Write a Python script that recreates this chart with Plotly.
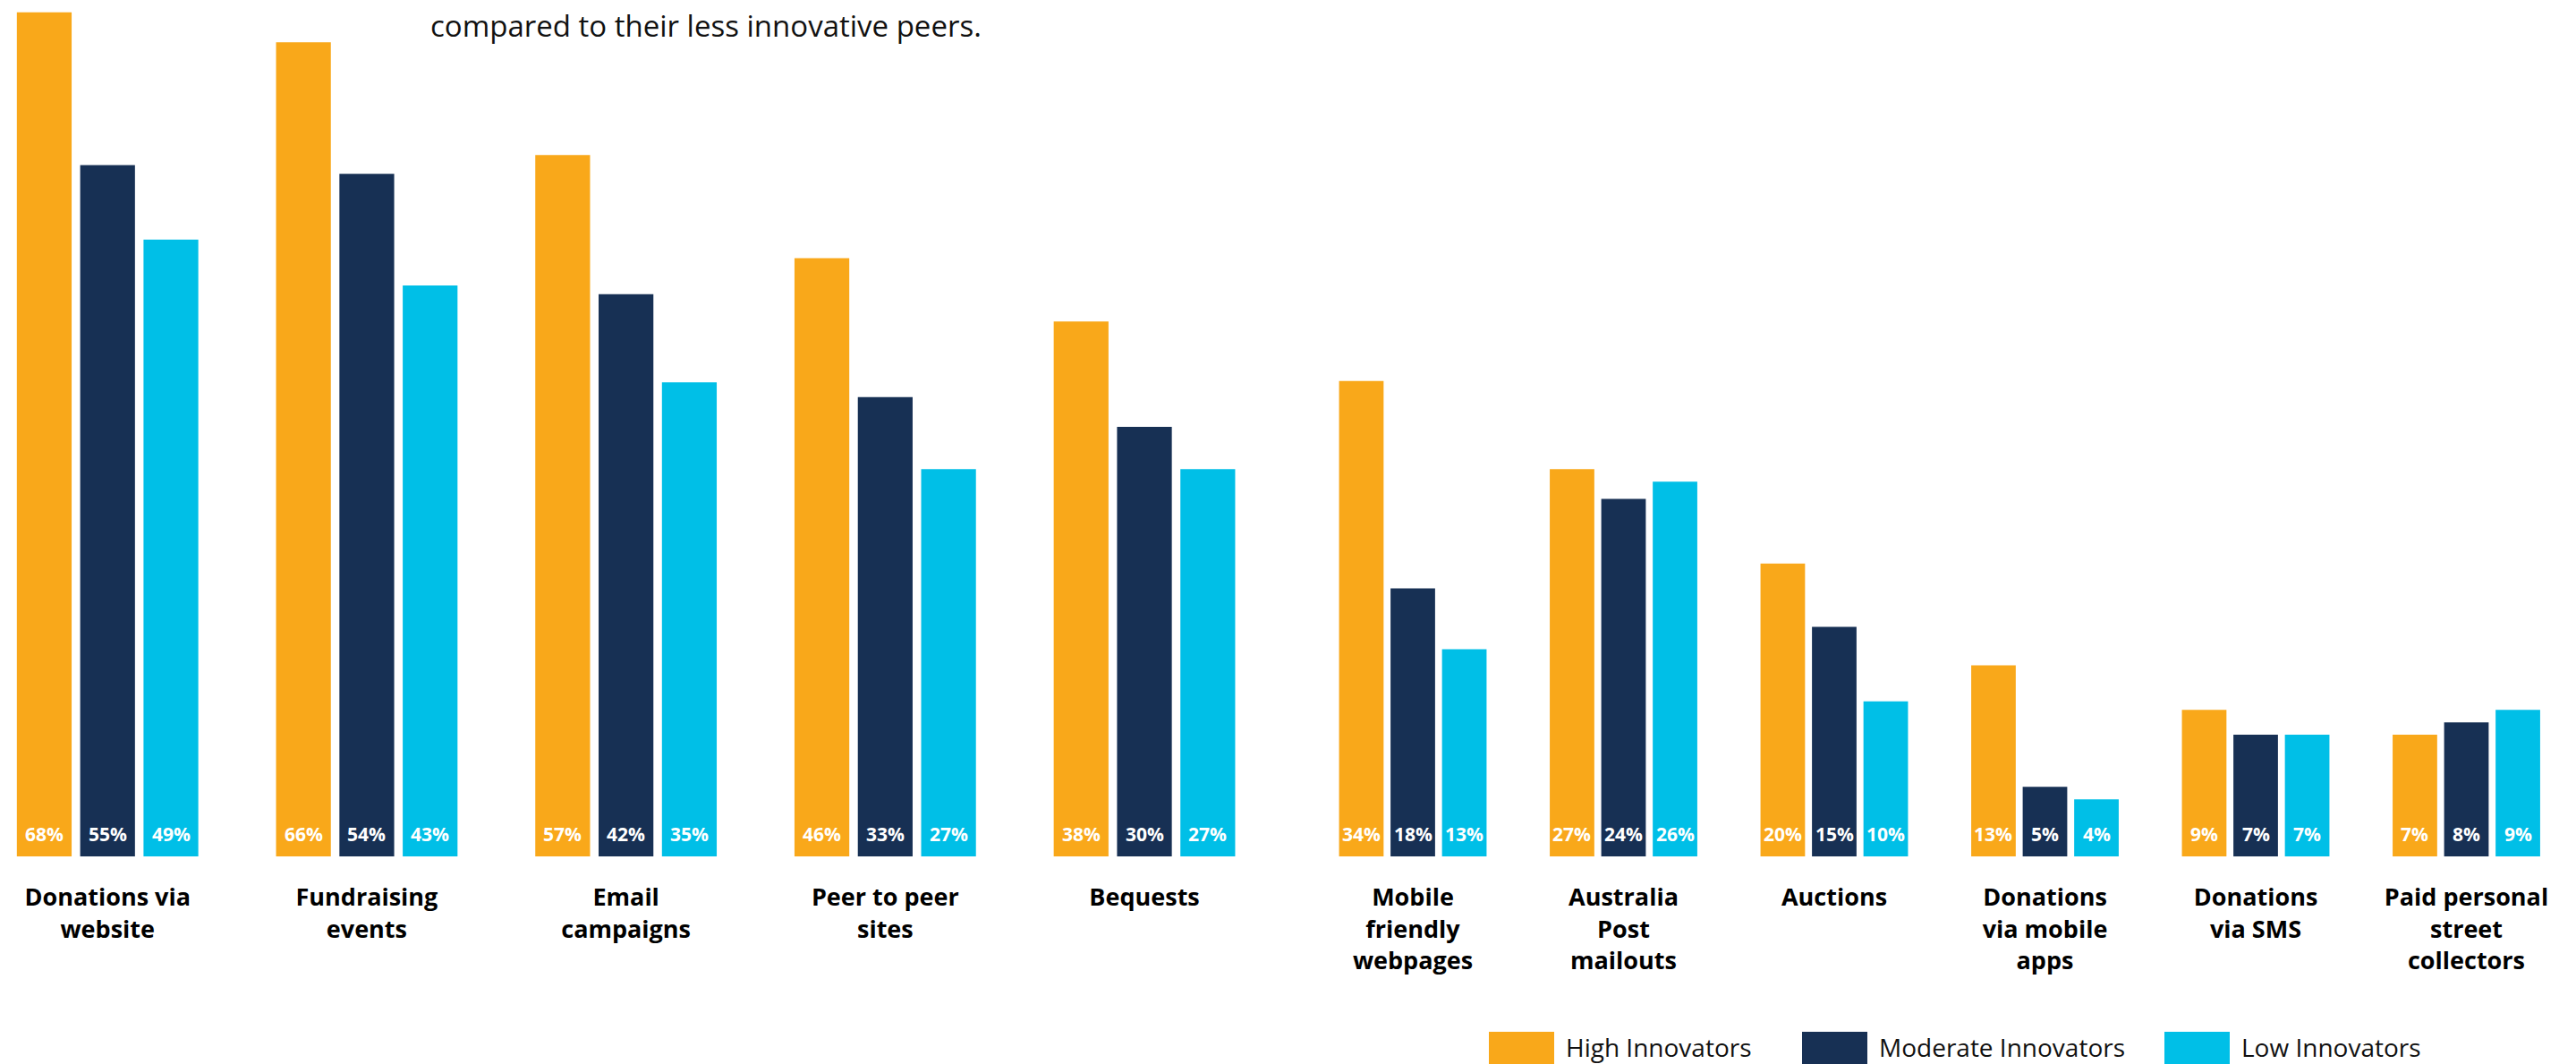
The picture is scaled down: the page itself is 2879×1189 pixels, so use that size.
import plotly.graph_objects as go

# ---------------- data ----------------
categories = [
    "Donations via<br>website", "Fundraising<br>events", "Email<br>campaigns",
    "Peer to peer<br>sites", "Bequests", "Mobile<br>friendly<br>webpages",
    "Australia<br>Post<br>mailouts", "Auctions", "Donations<br>via mobile<br>apps",
    "Donations<br>via SMS", "Paid personal<br>street<br>collectors",
]
series_names = ["High Innovators", "Moderate Innovators", "Low Innovators"]
series_colors = ["#F9A81A", "#173054", "#00BFE7"]

# printed percentage labels
high_pct = [68, 66, 57, 46, 38, 34, 27, 20, 13, 9, 7]
moderate_pct = [55, 54, 42, 33, 30, 18, 24, 15, 5, 7, 8]
low_pct = [49, 43, 35, 27, 27, 13, 26, 10, 4, 7, 9]

# bar lengths as drawn in the picture (same scale as the 68% bar)
high_bar = [68.0, 65.6, 56.5, 48.2, 43.1, 38.3, 31.2, 23.6, 15.4, 11.8, 9.8]
moderate_bar = [55.7, 55.0, 45.3, 37.0, 34.6, 21.6, 28.8, 18.5, 5.6, 9.8, 10.8]
low_bar = [49.7, 46.0, 38.2, 31.2, 31.2, 16.7, 30.2, 12.5, 4.6, 9.8, 11.8]

note_text = "compared to their less innovative peers."

# ---------------- layout constants ----------------
W, H = 2879, 1189
PLOT_BOTTOM = 957
SPLIT = 5
BARGAP = 0.267
BARGROUPGAP = 0.135
FONT = "Open Sans"

pct_series = [high_pct, moderate_pct, low_pct]
bar_series = [high_bar, moderate_bar, low_bar]


def py(p):
    return (PLOT_BOTTOM - p) / PLOT_BOTTOM


def px(p):
    return p / W


fig = go.Figure()
for j, (name, color, bars) in enumerate(zip(series_names, series_colors, bar_series)):
    fig.add_trace(go.Bar(x=categories[:SPLIT], y=bars[:SPLIT], name=name,
                         marker=dict(color=color, line=dict(width=0)),
                         xaxis="x", yaxis="y", showlegend=False, hoverinfo="skip"))
    fig.add_trace(go.Bar(x=categories[SPLIT:], y=bars[SPLIT:], name=name,
                         marker=dict(color=color, line=dict(width=0)),
                         xaxis="x2", yaxis="y", showlegend=False, hoverinfo="skip"))

annotations = []
slot = (1 - BARGAP) / 3
for j, pcts in enumerate(pct_series):
    for i, v in enumerate(pcts):
        if i < SPLIT:
            xref, xi = "x", i
        else:
            xref, xi = "x2", i - SPLIT
        annotations.append(dict(
            x=xi + (j - 1) * slot, y=0, xref=xref, yref="y",
            text=f"{v}%", showarrow=False, yanchor="middle", yshift=25,
            font=dict(family=FONT, size=21, color="white", weight="bold"),
        ))

annotations.append(dict(
    x=px(479), y=py(29), xref="paper", yref="paper", xanchor="left", yanchor="middle",
    text=note_text, showarrow=False, font=dict(family=FONT, size=33, color="#111111"),
))

# legend drawn as large swatches
legend_x = [1664, 2014, 2419]
shapes = []
for lx, name, color in zip(legend_x, series_names, series_colors):
    shapes.append(dict(type="rect", xref="paper", yref="paper",
                       x0=px(lx), x1=px(lx + 73), y0=py(1153), y1=py(1195),
                       fillcolor=color, line=dict(width=0)))
    annotations.append(dict(
        x=px(lx + 84), y=py(1170), xref="paper", yref="paper",
        xanchor="left", yanchor="middle", text=name, showarrow=False,
        font=dict(family=FONT, size=28, color="#111111"),
    ))

axis_common = dict(
    type="category", showgrid=False, zeroline=False, showline=False,
    ticks="outside", ticklen=22, tickcolor="rgba(0,0,0,0)",
    tickfont=dict(family=FONT, size=27, color="#000000", weight="bold"),
)

fig.update_layout(
    width=W, height=H,
    margin=dict(l=0, r=0, t=0, b=H - PLOT_BOTTOM),
    paper_bgcolor="white", plot_bgcolor="white",
    barmode="group", bargap=BARGAP, bargroupgap=BARGROUPGAP,
    xaxis=dict(domain=[0, px(1423.9)], range=[-0.415, 4.5], anchor="y", **axis_common),
    xaxis2=dict(domain=[px(1461.25), px(2874.25)], range=[-0.5, 5.5], anchor="y", **axis_common),
    yaxis=dict(range=[0, 69], visible=False, fixedrange=True),
    annotations=annotations, shapes=shapes,
    font=dict(family=FONT),
)

fig.write_html(
    "out.html",
    config={"displayModeBar": False},
    post_script="document.body.style.margin='0';document.body.style.overflow='hidden';",
)
